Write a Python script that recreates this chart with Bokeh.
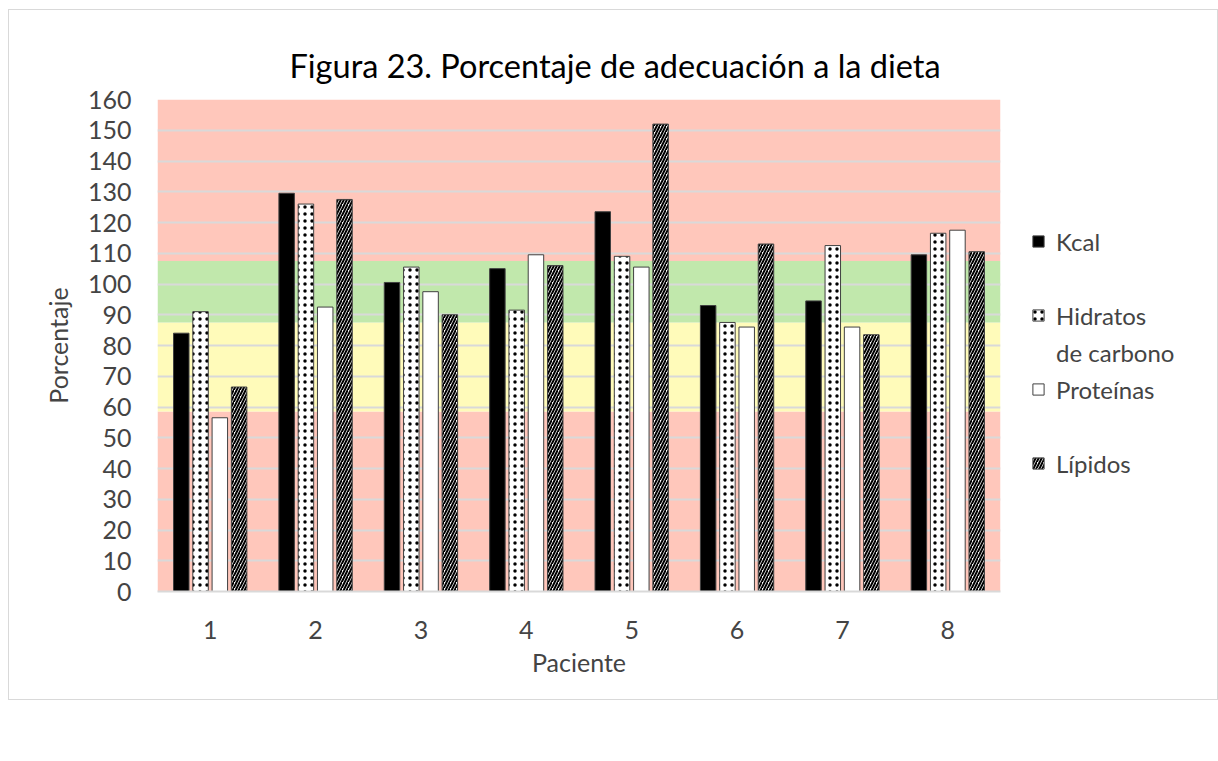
from bokeh.plotting import figure
from bokeh.models import (Legend, LegendItem, FixedTicker, Range1d, ColumnDataSource,
                          InlineStyleSheet)
from bokeh.embed import file_html
from bokeh.resources import INLINE

# ---------------- data ----------------
pacientes = [1, 2, 3, 4, 5, 6, 7, 8]
series = ["Kcal", "Hidratos", "de carbono", "Proteínas", "Lípidos"]
kcal = [84, 129.5, 100.5, 105, 123.5, 93, 94.5, 109.5]
hidratos = [91, 126, 105.5, 91.5, 109, 87.5, 112.5, 116.5]
proteinas = [56.5, 92.5, 97.5, 109.5, 105.5, 86, 86, 117.5]
lipidos = [66.5, 127.5, 90, 106, 152, 113, 83.5, 110.5]
y_ticks = list(range(0, 161, 10))
x_tick_labels = {p: str(p) for p in pacientes}

band_bottom = [0, 58.5, 87.5, 107.5]
band_top = [58.5, 87.5, 107.5, 160]
band_colors = ["#FFC7BB", "#FFFBBA", "#C1E8AC", "#FFC7BB"]

adherencia_labels = ["Buena adherencia", "Regular adherencia", "Baja adherencia"]
adherencia_colors = ["#C5E0B4", "#FFEAB6", "#FFB5B3"]

# ---------------- chart ----------------
FONT = "Lato"
p = figure(frame_width=843, frame_height=492, output_backend="svg", toolbar_location=None,
           x_range=Range1d(0.5, 8.5), y_range=Range1d(0, 160),
           min_border_left=157, min_border_right=218, min_border_top=99,
           min_border_bottom=0, background_fill_color="white",
           border_fill_color="white", outline_line_color=None,
           title="Figura 23. Porcentaje de adecuación a la dieta")

# outer chart border (drawn by the page, around the chart part only)
p.stylesheets = [InlineStyleSheet(css="""
:host::after {
  content: ""; position: absolute; left: 8px; top: 9px;
  width: 1210px; height: 691px; box-sizing: border-box;
  border: 1.5px solid #D9D9D9; pointer-events: none; z-index: 10;
}
""")]

p.title.text_font = FONT
p.title.text_font_size = "32.5px"
p.title.text_font_style = "normal"
p.title.text_color = "#000000"
p.title.align = "left"
p.title.offset = 132
p.title.standoff = 30

# background bands
p.quad(left=0.5, right=8.5, bottom=band_bottom, top=band_top,
       fill_color=band_colors, line_color=None, level="image")

step = 0.183
width = 0.147
offsets = [-1.5 * step, -0.5 * step, 0.5 * step, 1.5 * step]
values = [kcal, hidratos, proteinas, lipidos]
styles = [
    dict(fill_color="black"),
    dict(fill_color="white", hatch_pattern="dot", hatch_color="black", hatch_scale=7, hatch_weight=1.5),
    dict(fill_color="white"),
    dict(fill_color="white", hatch_pattern="right_diagonal_line", hatch_color="black", hatch_scale=6, hatch_weight=2),
]
renderers = []
for vals, off, st in zip(values, offsets, styles):
    src = ColumnDataSource(dict(x=[x + off for x in pacientes], top=vals))
    r = p.vbar(x="x", top="top", width=width, bottom=0, source=src,
               line_color="#404040", line_width=1, **st)
    renderers.append(r)

# invisible proxy renderer for spacer rows / the second line of "Hidratos de carbono"
blank = p.quad(left=[0], right=[0], bottom=[0], top=[0], fill_alpha=0, line_alpha=0)

legend_items = [
    LegendItem(label=series[0], renderers=[renderers[0]]),
    LegendItem(label=" ", renderers=[blank]),
    LegendItem(label=series[1], renderers=[renderers[1]]),
    LegendItem(label=series[2], renderers=[blank]),
    LegendItem(label=series[3], renderers=[renderers[2]]),
    LegendItem(label=" ", renderers=[blank]),
    LegendItem(label=series[4], renderers=[renderers[3]]),
]
lg = Legend(items=legend_items, location="top_left", orientation="vertical",
            title=" ", title_text_font_size="10px", title_standoff=85,
            label_text_font=FONT, label_text_font_size="24px",
            glyph_width=14, glyph_height=14, label_height=30, label_standoff=11,
            spacing=7, padding=0, margin=31,
            border_line_color=None, background_fill_alpha=0)
p.add_layout(lg, "right")

# bottom legend (adherence colours); zero-size proxy quads carry the colours
adh_renderers = [p.quad(left=[0], right=[0], top=[0], bottom=[0], fill_color=c, line_color=None)
                 for c in adherencia_colors]
adh = Legend(items=[LegendItem(label=l, renderers=[r]) for l, r in zip(adherencia_labels, adh_renderers)],
             location="top_left", orientation="horizontal",
             title=" ", title_text_font_size="10px", title_standoff=36,
             label_text_font="Liberation Sans", label_text_font_size="19px",
             glyph_width=30, glyph_height=30, label_height=30, label_standoff=14,
             label_width=287, spacing=1, padding=0, margin=0,
             border_line_color=None, background_fill_alpha=0)
p.add_layout(adh, "below")

# axes
p.yaxis.ticker = FixedTicker(ticks=y_ticks)
p.yaxis.axis_line_color = None
p.yaxis.major_tick_line_color = None
p.yaxis.minor_tick_line_color = None
p.yaxis.major_tick_out = 0
p.yaxis.major_label_standoff = 26
p.yaxis.major_label_text_font = FONT
p.yaxis.major_label_text_font_size = "25px"
p.yaxis.axis_label = "Porcentaje"
p.yaxis.axis_label_text_font = FONT
p.yaxis.axis_label_text_font_size = "25px"
p.yaxis.axis_label_text_font_style = "normal"
p.yaxis.axis_label_standoff = 12

p.xaxis.ticker = FixedTicker(ticks=pacientes)
p.xaxis.major_label_overrides = x_tick_labels
p.xaxis.axis_line_color = "#D9D9D9"
p.xaxis.axis_line_width = 2
p.xaxis.major_tick_line_color = None
p.xaxis.minor_tick_line_color = None
p.xaxis.major_tick_out = 0
p.xaxis.major_label_standoff = 29
p.xaxis.major_label_text_font = FONT
p.xaxis.major_label_text_font_size = "25px"
p.xaxis.axis_label = "Paciente"
p.xaxis.axis_label_text_font = FONT
p.xaxis.axis_label_text_font_size = "25px"
p.xaxis.axis_label_text_font_style = "normal"
p.xaxis.axis_label_standoff = 5

p.xgrid.grid_line_color = None
p.ygrid.ticker = FixedTicker(ticks=y_ticks)
p.ygrid.grid_line_color = "#D9D9D9"
p.ygrid.grid_line_width = 2

open("out.html", "w").write(file_html(p, INLINE))
